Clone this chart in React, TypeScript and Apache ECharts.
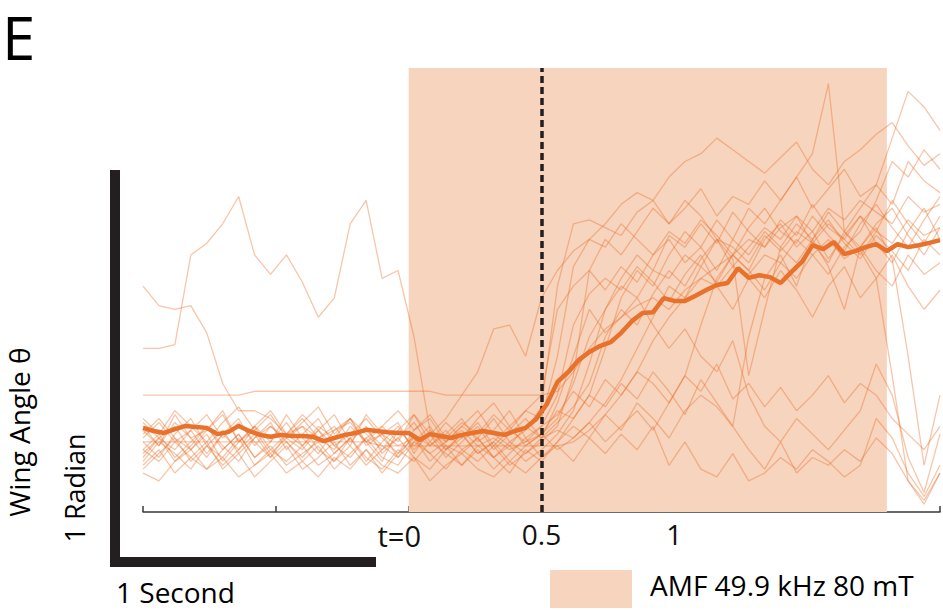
import React, { useEffect, useRef } from "react";
import * as echarts from "echarts";

// time grid (seconds, relative to field onset)
const T0 = -1;
const DT_MEAN = 0.04;
const DT_TRIAL = 0.06;
const X_TICK_LABELS: Record<string, string> = { "0.5": "0.5", "1": "1" };
const FIELD_ON = 0;
const FIELD_OFF = 1.8;
const MARKER_T = 0.5;
const LEGEND_LABEL = "AMF 49.9 kHz 80 mT";

// mean wing angle (rad)
const meanAngle = [
  0.216, 0.208, 0.203, 0.213, 0.221, 0.218, 0.216, 0.2, 0.205, 0.221,
  0.208, 0.198, 0.193, 0.198, 0.195, 0.195, 0.193, 0.182, 0.19, 0.198,
  0.203, 0.211, 0.208, 0.205, 0.203, 0.203, 0.185, 0.2, 0.195, 0.19,
  0.198, 0.203, 0.208, 0.203, 0.198, 0.208, 0.216, 0.239, 0.277, 0.334,
  0.359, 0.39, 0.411, 0.426, 0.436, 0.46, 0.49, 0.511, 0.513, 0.549,
  0.542, 0.542, 0.555, 0.57, 0.583, 0.588, 0.626, 0.601, 0.608, 0.603,
  0.588, 0.616, 0.642, 0.685, 0.675, 0.693, 0.662, 0.67, 0.68, 0.688,
  0.67, 0.688, 0.68, 0.685, 0.691, 0.698,
];

// individual trials (rad)
const trial01 = [
  0.58, 0.53, 0.52, 0.53, 0.46, 0.33, 0.26, 0.26, 0.24, 0.2,
  0.22, 0.19, 0.21, 0.23, 0.18, 0.2, 0.17, 0.19, 0.15, 0.18,
  0.21, 0.17, 0.19, 0.16, 0.18, 0.2, 0.24, 0.33, 0.45, 0.52,
  0.58, 0.55, 0.62, 0.6, 0.66, 0.63, 0.7, 0.68, 0.64, 0.71,
  0.67, 0.72, 0.69, 0.74, 0.7, 0.66, 0.72, 0.69, 0.75, 0.71, 0.73,
];
const trial02 = [
  0.42, 0.42, 0.43, 0.66, 0.69, 0.74, 0.81, 0.66, 0.61, 0.66,
  0.59, 0.5, 0.55, 0.74, 0.8, 0.6, 0.62, 0.45, 0.21, 0.17,
  0.15, 0.19, 0.14, 0.17, 0.13, 0.16, 0.2, 0.26, 0.38, 0.52,
  0.6, 0.66, 0.62, 0.71, 0.68, 0.74, 0.69, 0.77, 0.72, 0.68,
  0.75, 0.71, 0.79, 0.73, 0.7, 0.76, 0.72, 0.8, 0.74, 0.69, 0.76,
];
const trial03 = [
  0.3, 0.3, 0.3, 0.3, 0.3, 0.3, 0.3, 0.31, 0.31, 0.31,
  0.31, 0.31, 0.31, 0.31, 0.31, 0.31, 0.31, 0.31, 0.31, 0.3,
  0.3, 0.3, 0.3, 0.3, 0.3, 0.3, 0.31, 0.36, 0.42, 0.47,
  0.5, 0.53, 0.55, 0.52, 0.57, 0.6, 0.58, 0.63, 0.61, 0.66,
  0.64, 0.6, 0.66, 0.7, 0.65, 0.68, 0.62, 0.58, 0.66, 0.61, 0.64,
];
const trial04 = [
  0.18, 0.18, 0.18, 0.18, 0.18, 0.18, 0.18, 0.18, 0.18, 0.18,
  0.18, 0.18, 0.18, 0.18, 0.18, 0.17, 0.17, 0.17, 0.17, 0.17,
  0.17, 0.17, 0.17, 0.17, 0.17, 0.17, 0.17, 0.18, 0.21, 0.25,
  0.3, 0.36, 0.44, 0.5, 0.55, 0.6, 0.63, 0.66, 0.7, 0.68,
  0.73, 0.76, 0.72, 0.78, 0.75, 0.8, 0.77, 0.74, 0.81, 0.77, 0.79,
];
const trial05 = [
  0.22, 0.17, 0.25, 0.19, 0.21, 0.26, 0.18, 0.22, 0.16, 0.2,
  0.24, 0.19, 0.22, 0.17, 0.25, 0.2, 0.23, 0.15, 0.21, 0.18,
  0.22, 0.19, 0.24, 0.18, 0.21, 0.27, 0.58, 0.74, 0.75, 0.73,
  0.71, 0.77, 0.8, 0.74, 0.78, 0.83, 0.76, 0.81, 0.79, 0.85,
  0.8, 0.86, 0.78, 0.83, 0.88, 0.81, 0.84, 0.79, 0.9, 0.85, 0.82,
];
const trial06 = [
  0.14, 0.19, 0.13, 0.17, 0.22, 0.16, 0.2, 0.14, 0.18, 0.23,
  0.17, 0.21, 0.15, 0.19, 0.13, 0.18, 0.22, 0.16, 0.2, 0.24,
  0.3, 0.36, 0.47, 0.48, 0.4, 0.55, 0.62, 0.67, 0.7, 0.74,
  0.79, 0.82, 0.8, 0.86, 0.9, 0.92, 0.96, 0.93, 0.9, 0.87,
  0.91, 0.95, 0.88, 0.84, 0.9, 0.93, 0.97, 1.0, 0.94, 0.89, 0.92,
];
const trial07 = [
  0.12, 0.16, 0.1, 0.14, 0.18, 0.11, 0.15, 0.09, 0.13, 0.17,
  0.11, 0.14, 0.18, 0.12, 0.16, 0.1, 0.15, 0.19, 0.13, 0.17,
  0.12, 0.16, 0.11, 0.15, 0.19, 0.14, 0.18, 0.24, 0.3, 0.42,
  0.55, 0.62, 0.58, 0.66, 0.72, 0.68, 0.75, 0.7, 0.78, 0.74,
  0.8, 0.86, 0.92, 1.1, 0.72, 0.78, 0.84, 0.96, 1.08, 1.04, 0.98,
];
const trial08 = [
  0.1, 0.08, 0.13, 0.16, 0.11, 0.14, 0.09, 0.12, 0.15, 0.1,
  0.13, 0.09, 0.14, 0.11, 0.16, 0.12, 0.1, 0.14, 0.08, 0.12,
  0.15, 0.11, 0.09, 0.13, 0.1, 0.14, 0.17, 0.13, 0.19, 0.15,
  0.2, 0.16, 0.22, 0.12, 0.18, 0.11, 0.09, 0.15, 0.08, 0.1,
  0.14, 0.11, 0.16, 0.13, 0.09, 0.12, 0.24, 0.19, 0.1, 0.04, 0.12,
];
const trial09 = [
  0.19, 0.23, 0.18, 0.21, 0.15, 0.2, 0.24, 0.17, 0.22, 0.19,
  0.16, 0.21, 0.25, 0.18, 0.22, 0.15, 0.19, 0.23, 0.17, 0.2,
  0.24, 0.18, 0.21, 0.26, 0.19, 0.22, 0.25, 0.31, 0.27, 0.34,
  0.3, 0.36, 0.33, 0.28, 0.35, 0.31, 0.38, 0.29, 0.33, 0.27,
  0.32, 0.26, 0.3, 0.35, 0.28, 0.33, 0.3, 0.24, 0.2, 0.16, 0.22,
];
const trial10 = [
  0.16, 0.2, 0.14, 0.18, 0.22, 0.17, 0.13, 0.19, 0.23, 0.16,
  0.2, 0.24, 0.17, 0.14, 0.19, 0.22, 0.18, 0.25, 0.2, 0.16,
  0.19, 0.23, 0.17, 0.21, 0.18, 0.22, 0.3, 0.48, 0.56, 0.6,
  0.57, 0.63, 0.59, 0.54, 0.61, 0.66, 0.58, 0.52, 0.6, 0.55,
  0.62, 0.57, 0.5, 0.58, 0.63, 0.55, 0.6, 0.66, 0.58, 0.52, 0.57,
];
const trial11 = [
  0.21, 0.17, 0.23, 0.19, 0.14, 0.2, 0.16, 0.22, 0.18, 0.25,
  0.19, 0.15, 0.21, 0.24, 0.17, 0.2, 0.14, 0.18, 0.22, 0.16,
  0.2, 0.15, 0.18, 0.22, 0.17, 0.2, 0.16, 0.19, 0.23, 0.18,
  0.22, 0.26, 0.21, 0.28, 0.35, 0.48, 0.6, 0.66, 0.62, 0.7,
  0.74, 0.68, 0.72, 0.65, 0.71, 0.76, 0.69, 0.64, 0.72, 0.78, 0.7,
];
const trial12 = [
  0.13, 0.18, 0.15, 0.11, 0.17, 0.14, 0.19, 0.12, 0.16, 0.13,
  0.17, 0.12, 0.15, 0.19, 0.14, 0.11, 0.16, 0.13, 0.18, 0.15,
  0.12, 0.17, 0.14, 0.1, 0.16, 0.13, 0.18, 0.22, 0.19, 0.25,
  0.21, 0.28, 0.24, 0.19, 0.26, 0.3, 0.27, 0.22, 0.45, 0.6,
  0.66, 0.58, 0.7, 0.63, 0.52, 0.68, 0.73, 0.65, 0.4, 0.12, 0.3,
];
const trial13 = [
  0.24, 0.2, 0.26, 0.22, 0.18, 0.23, 0.27, 0.21, 0.25, 0.19,
  0.23, 0.27, 0.2, 0.24, 0.18, 0.22, 0.26, 0.21, 0.25, 0.19,
  0.23, 0.2, 0.25, 0.21, 0.26, 0.24, 0.4, 0.63, 0.7, 0.68,
  0.74, 0.7, 0.66, 0.72, 0.69, 0.75, 0.71, 0.66, 0.73, 0.78,
  0.72, 0.69, 0.76, 0.71, 0.67, 0.74, 0.79, 0.73, 0.68, 0.75, 0.81,
];
const trial14 = [
  0.15, 0.19, 0.22, 0.16, 0.2, 0.13, 0.18, 0.21, 0.15, 0.19,
  0.22, 0.16, 0.13, 0.19, 0.21, 0.17, 0.14, 0.2, 0.17, 0.21,
  0.16, 0.19, 0.14, 0.18, 0.15, 0.19, 0.21, 0.19, 0.23, 0.28,
  0.34, 0.42, 0.5, 0.58, 0.55, 0.63, 0.59, 0.66, 0.62, 0.57,
  0.64, 0.7, 0.66, 0.61, 0.68, 0.72, 0.8, 0.9, 0.86, 0.93, 0.88,
];
const trial15 = [
  0.18, 0.14, 0.2, 0.24, 0.17, 0.21, 0.15, 0.19, 0.22, 0.18,
  0.14, 0.19, 0.16, 0.22, 0.18, 0.13, 0.21, 0.17, 0.2, 0.14,
  0.18, 0.22, 0.16, 0.2, 0.24, 0.19, 0.28, 0.4, 0.52, 0.46,
  0.5, 0.55, 0.48, 0.42, 0.47, 0.4, 0.36, 0.44, 0.3, 0.22,
  0.18, 0.24, 0.2, 0.16, 0.21, 0.26, 0.38, 0.3, 0.14, 0.05, 0.2,
];
const trial16 = [
  0.2, 0.24, 0.19, 0.16, 0.21, 0.25, 0.18, 0.22, 0.26, 0.2,
  0.17, 0.22, 0.19, 0.24, 0.2, 0.16, 0.21, 0.25, 0.18, 0.23,
  0.19, 0.24, 0.28, 0.22, 0.26, 0.3, 0.52, 0.58, 0.62, 0.57,
  0.63, 0.59, 0.66, 0.7, 0.64, 0.68, 0.62, 0.7, 0.66, 0.72,
  0.68, 0.64, 0.7, 0.75, 0.69, 0.65, 0.71, 0.67, 0.62, 0.7, 0.66,
];
const trial17 = [
  0.11, 0.15, 0.19, 0.13, 0.17, 0.12, 0.16, 0.2, 0.14, 0.18,
  0.13, 0.17, 0.11, 0.15, 0.19, 0.14, 0.12, 0.18, 0.15, 0.11,
  0.16, 0.13, 0.17, 0.12, 0.15, 0.18, 0.22, 0.35, 0.62, 0.7,
  0.66, 0.72, 0.78, 0.74, 0.8, 0.76, 0.7, 0.65, 0.35, 0.52,
  0.68, 0.74, 0.7, 0.77, 0.72, 0.68, 0.74, 0.78, 0.71, 0.66, 0.73,
];
const trial18 = [
  0.23, 0.19, 0.16, 0.21, 0.25, 0.19, 0.23, 0.18, 0.14, 0.2,
  0.25, 0.21, 0.17, 0.2, 0.24, 0.19, 0.15, 0.21, 0.24, 0.18,
  0.22, 0.26, 0.2, 0.17, 0.22, 0.19, 0.23, 0.27, 0.33, 0.45,
  0.52, 0.48, 0.56, 0.62, 0.58, 0.65, 0.7, 0.63, 0.68, 0.73,
  0.7, 0.76, 0.69, 0.64, 0.72, 0.67, 0.6, 0.35, 0.08, 0.03, 0.1,
];
const trial19 = [
  0.16, 0.13, 0.18, 0.14, 0.11, 0.16, 0.2, 0.14, 0.17, 0.12,
  0.15, 0.18, 0.13, 0.17, 0.12, 0.16, 0.19, 0.14, 0.11, 0.16,
  0.2, 0.15, 0.18, 0.13, 0.17, 0.2, 0.26, 0.24, 0.3, 0.27,
  0.33, 0.29, 0.36, 0.31, 0.25, 0.34, 0.28, 0.22, 0.16, 0.11,
  0.18, 0.1, 0.14, 0.12, 0.16, 0.13, 0.19, 0.15, 0.08, 0.02, 0.1,
];

const trials = [
  trial01, trial02, trial03, trial04, trial05, trial06, trial07, trial08, trial09, trial10,
  trial11, trial12, trial13, trial14, trial15, trial16, trial17, trial18, trial19,
];

const ORANGE = "#e8712b";
const SHADE = "#f7d4be";
const INK = "#231f20";
const FONT = "'Open Sans', 'Noto Sans', sans-serif";

const toPairs = (vals: number[], dt: number) =>
  vals.map((v, i) => [Math.round((T0 + i * dt) * 1000) / 1000, v]);

export default function App() {
  const ref = useRef<HTMLDivElement>(null);

  useEffect(() => {
    if (!ref.current) return;
    const chart = echarts.init(ref.current, undefined, { renderer: "svg" });

    const trialSeries = trials.map((vals, k) => ({
      name: "trial" + (k + 1),
      type: "line",
      data: toPairs(vals, DT_TRIAL),
      showSymbol: false,
      symbol: "none",
      silent: true,
      z: 3,
      lineStyle: { color: ORANGE, width: 1.3, opacity: 0.4 },
    }));

    chart.setOption({
      animation: false,
      grid: { left: 143, right: 2, top: 68, bottom: 98, containLabel: false },
      xAxis: {
        type: "value",
        min: -1,
        max: 2,
        interval: 0.5,
        axisLine: { show: true, onZero: false, lineStyle: { color: "#3a3a3a", width: 1.5 } },
        axisTick: { show: true, inside: true, length: 6, lineStyle: { color: "#3a3a3a", width: 1.5 } },
        axisLabel: {
          show: true,
          margin: 8,
          fontSize: 28,
          color: "#111",
          fontFamily: FONT,
          formatter: (v: number) => X_TICK_LABELS[String(v)] ?? "",
        },
        splitLine: { show: false },
      },
      yAxis: {
        type: "value",
        min: 0,
        max: 1.14,
        show: false,
        splitLine: { show: false },
      },
      series: [
        {
          name: LEGEND_LABEL,
          type: "line",
          data: [],
          z: 1,
          silent: true,
          markArea: {
            silent: true,
            itemStyle: { color: SHADE, opacity: 1 },
            data: [[{ xAxis: FIELD_ON }, { xAxis: FIELD_OFF }]],
          },
        },
        ...trialSeries,
        {
          name: "mean",
          type: "line",
          data: toPairs(meanAngle, DT_MEAN),
          showSymbol: false,
          symbol: "none",
          silent: true,
          z: 5,
          lineStyle: { color: ORANGE, width: 4.5 },
          markLine: {
            silent: true,
            symbol: "none",
            label: { show: false },
            lineStyle: { color: INK, width: 3.5, type: [7, 4] },
            data: [{ xAxis: MARKER_T }],
          },
        },
      ],
      graphic: [
        {
          type: "text",
          x: 2,
          y: 37,
          style: { text: "E", fontSize: 60, lineHeight: 60, fill: "#000", fontFamily: FONT, align: "left", verticalAlign: "middle" },
        },
        { type: "rect", shape: { x: 110, y: 170, width: 10, height: 397 }, style: { fill: INK } },
        { type: "rect", shape: { x: 110, y: 557, width: 266, height: 10 }, style: { fill: INK } },
        {
          type: "text",
          x: 19,
          y: 432,
          rotation: Math.PI / 2,
          style: { text: "Wing Angle θ", fontSize: 28, lineHeight: 28, fill: "#000", fontFamily: FONT, align: "center", verticalAlign: "middle" },
        },
        {
          type: "text",
          x: 74,
          y: 488,
          rotation: Math.PI / 2,
          style: { text: "1 Radian", fontSize: 27, lineHeight: 27, fill: "#000", fontFamily: FONT, align: "center", verticalAlign: "middle" },
        },
        {
          type: "text",
          x: 116,
          y: 592,
          style: { text: "1 Second", fontSize: 28, lineHeight: 28, fill: "#000", fontFamily: FONT, align: "left", verticalAlign: "middle" },
        },
        {
          type: "text",
          x: 421,
          y: 535,
          style: { text: "t=0", fontSize: 29, lineHeight: 29, fill: "#111", fontFamily: FONT, align: "right", verticalAlign: "middle" },
        },
        { type: "rect", shape: { x: 550, y: 570, width: 82, height: 38 }, style: { fill: SHADE } },
        {
          type: "text",
          x: 650,
          y: 585,
          style: { text: LEGEND_LABEL, fontSize: 28, lineHeight: 28, fill: "#000", fontFamily: FONT, align: "left", verticalAlign: "middle" },
        },
      ],
    });

    return () => chart.dispose();
  }, []);

  return (
    <div
      ref={ref}
      style={{ position: "fixed", left: 0, top: 0, width: 943, height: 610, background: "#fff" }}
    />
  );
}
